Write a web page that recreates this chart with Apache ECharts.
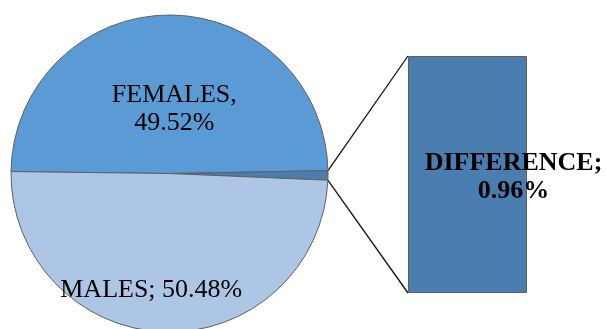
<!DOCTYPE html>
<html>
<head>
<meta charset="utf-8">
<script src="https://cdn.jsdelivr.net/npm/echarts@6/dist/echarts.min.js"></script>
<style>
  html, body { margin: 0; padding: 0; background: #fff; }
  #chart { width: 606px; height: 329px; }
</style>
</head>
<body>
<div id="chart"></div>
<script>
// shares of population, percent
const categories = ["FEMALES", "MALES", "DIFFERENCE"];
const shares = [49.52, 50.48, 0.96];

// the pie shows females, the males minus the difference, and the difference split out
const pieData = [
  { name: categories[0], value: shares[0] },
  { name: categories[2], value: shares[2] },
  { name: categories[1], value: shares[1] - shares[2] }
];

const font = "'Liberation Serif', 'Times New Roman', serif";
const center = [169.5, 173.5];
const radius = 158.5;
const startAngle = 179.3;
const bar = { left: 408, top: 56, width: 119, height: 237 };

// edge points of the difference slice, for the connector lines
const total = pieData.reduce((s, d) => s + d.value, 0);
const a1 = (startAngle - 360 * pieData[0].value / total) * Math.PI / 180;
const a2 = a1 - 360 * pieData[1].value / total * Math.PI / 180;
const edge = a => [center[0] + radius * Math.cos(a), center[1] - radius * Math.sin(a)];
const p1 = edge(a1), p2 = edge(a2);

const labelShift = {
  0: { dx: 5, dy: 18 },
  2: { dx: -16, dy: 34 }
};

const chart = echarts.init(document.getElementById("chart"));
chart.setOption({
  animation: false,
  grid: { left: bar.left, top: bar.top, width: bar.width, height: bar.height },
  xAxis: { type: "category", data: [categories[2]], show: false },
  yAxis: { type: "value", min: 0, max: shares[2], show: false },
  series: [
    {
      type: "pie",
      center: center,
      radius: radius,
      startAngle: startAngle,
      clockwise: true,
      avoidLabelOverlap: false,
      silent: true,
      itemStyle: { borderColor: "#5f5f5f", borderWidth: 1 },
      label: {
        show: true,
        position: "inside",
        fontFamily: font,
        fontSize: 26,
        lineHeight: 28,
        color: "#000"
      },
      labelLine: { show: false },
      labelLayout: p => labelShift[p.dataIndex] || {},
      data: [
        { ...pieData[0], itemStyle: { color: "#5b9bd5" },
          label: { formatter: categories[0] + ",\n" + shares[0].toFixed(2) + "%" } },
        { ...pieData[1], itemStyle: { color: "#4a7eb0" }, label: { show: false } },
        { ...pieData[2], itemStyle: { color: "#adc6e5" },
          label: { formatter: categories[1] + "; " + shares[1].toFixed(2) + "%" } }
      ]
    },
    {
      type: "bar",
      barWidth: "100%",
      silent: true,
      itemStyle: { color: "#4a7eb0", borderColor: "#5f5f5f", borderWidth: 1 },
      label: {
        show: true,
        position: "inside",
        offset: [46, 3],
        fontFamily: font,
        fontSize: 26,
        fontWeight: "bold",
        lineHeight: 28,
        color: "#000",
        formatter: categories[2] + ";\n" + shares[2].toFixed(2) + "%"
      },
      data: [shares[2]]
    }
  ],
  graphic: [
    { type: "line", silent: true,
      shape: { x1: p1[0], y1: p1[1], x2: bar.left, y2: bar.top },
      style: { stroke: "#111", lineWidth: 1.3 } },
    { type: "line", silent: true,
      shape: { x1: p2[0], y1: p2[1], x2: bar.left, y2: bar.top + bar.height },
      style: { stroke: "#111", lineWidth: 1.3 } }
  ]
});
</script>
</body>
</html>
